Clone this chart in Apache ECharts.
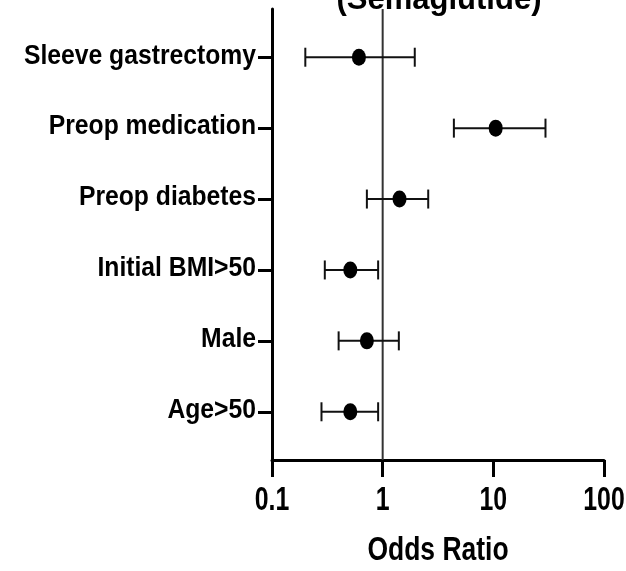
<!DOCTYPE html>
<html>
<head>
<meta charset="utf-8">
<style>
  html, body { margin: 0; padding: 0; background: #fff; }
  #chart { width: 626px; height: 571px; }
</style>
<script src="https://cdn.jsdelivr.net/npm/echarts@6/dist/echarts.min.js"></script>
</head>
<body>
<div id="chart"></div>
<script>
// Predictors, listed top to bottom
const categories = ['Sleeve gastrectomy', 'Preop medication', 'Preop diabetes', 'Initial BMI>50', 'Male', 'Age>50'];
// Odds ratios with 95% confidence limits
const oddsRatio = [0.61, 10.5, 1.42, 0.51, 0.72, 0.51];
const ciLower   = [0.20, 4.4, 0.72, 0.30, 0.40, 0.28];
const ciUpper   = [1.95, 29.6, 2.58, 0.91, 1.40, 0.91];
const xTickValues = [0.1, 1, 10, 100];
const xTickLabels = ['0.1', '1', '10', '100'];
const xAxisTitle = 'Odds Ratio';
const chartTitle = '(Semaglutide)';
const refValue = 1;

const FAMILY = '"Liberation Sans", Arial, sans-serif';
const rowPos = categories.map((_, i) => i + 1);
const yMin = 0.32, yMax = categories.length + 0.68;

const chart = echarts.init(document.getElementById('chart'), null, { renderer: 'canvas' });

chart.setOption({
  animation: false,
  backgroundColor: '#fff',
  title: {
    text: chartTitle,
    left: 434,
    textAlign: 'center',
    top: -20,
    textStyle: { fontFamily: FAMILY, fontWeight: 'bold', fontSize: 31, color: '#000' }
  },
  grid: { left: 272, right: 22, top: 9, bottom: 111, containLabel: false, outerBoundsMode: 'none' },
  xAxis: {
    type: 'log',
    logBase: 10,
    min: 0.1,
    max: 100,
    axisLine: { lineStyle: { color: '#000', width: 3 } },
    axisTick: { length: 17, lineStyle: { color: '#000', width: 3 } },
    minorTick: { show: false },
    splitLine: { show: false },
    axisLabel: { show: false }
  },
  yAxis: {
    type: 'value',
    inverse: true,
    min: yMin,
    max: yMax,
    axisLine: { show: true, lineStyle: { color: '#000', width: 3 } },
    axisTick: { show: true, length: 14, customValues: rowPos, lineStyle: { color: '#000', width: 3 } },
    splitLine: { show: false },
    axisLabel: { show: false }
  },
  series: [
    {
      // reference line at OR = 1
      type: 'line',
      data: [[refValue, yMin], [refValue, yMax]],
      symbol: 'none',
      silent: true,
      lineStyle: { color: '#333', width: 2 },
      z: 1
    },
    {
      // confidence-interval whiskers with end caps
      type: 'custom',
      data: categories.map((_, i) => [rowPos[i], ciLower[i], ciUpper[i]]),
      renderItem: (params, api) => {
        const y = api.value(0);
        const lo = api.coord([api.value(1), y]);
        const hi = api.coord([api.value(2), y]);
        const cap = 9.5;
        const style = { stroke: '#111', lineWidth: 2 };
        return {
          type: 'group',
          children: [
            { type: 'line', shape: { x1: lo[0], y1: lo[1], x2: hi[0], y2: hi[1] }, style },
            { type: 'line', shape: { x1: lo[0], y1: lo[1] - cap, x2: lo[0], y2: lo[1] + cap }, style },
            { type: 'line', shape: { x1: hi[0], y1: hi[1] - cap, x2: hi[0], y2: hi[1] + cap }, style }
          ]
        };
      },
      z: 2
    },
    {
      // point estimates
      type: 'scatter',
      data: categories.map((_, i) => [oddsRatio[i], rowPos[i]]),
      symbol: 'circle',
      symbolSize: [14, 17],
      itemStyle: { color: '#000', opacity: 1 },
      z: 3
    }
  ]
});

// Condensed bold axis text, placed from the axes' own pixel mapping
function condensedText(text, x, y, size, squeeze, align) {
  return {
    type: 'text',
    x: x, y: y,
    scaleX: squeeze, scaleY: 1,
    silent: true,
    style: {
      text: text,
      font: 'bold ' + size + 'px ' + FAMILY,
      fill: '#000',
      align: align, textAlign: align,
      verticalAlign: 'middle', textVerticalAlign: 'middle'
    }
  };
}

const toPx = v => chart.convertToPixel({ gridIndex: 0 }, v);
const texts = [];
categories.forEach((name, i) => {
  const p = toPx([xTickValues[0], rowPos[i]]);
  texts.push(condensedText(name, p[0] - 16, p[1] - 1.5, 28.4, 0.87, 'right'));
});
const axisY = toPx([xTickValues[0], yMax])[1];
xTickValues.forEach((v, i) => {
  const p = toPx([v, yMax]);
  texts.push(condensedText(xTickLabels[i], p[0], axisY + 40.5, 34, 0.73, 'center'));
});
const leftPx = toPx([xTickValues[0], yMax])[0];
const rightPx = toPx([xTickValues[xTickValues.length - 1], yMax])[0];
texts.push(condensedText(xAxisTitle, (leftPx + rightPx) / 2, axisY + 90.5, 33.5, 0.79, 'center'));

chart.setOption({ graphic: { elements: texts } });
</script>
</body>
</html>
